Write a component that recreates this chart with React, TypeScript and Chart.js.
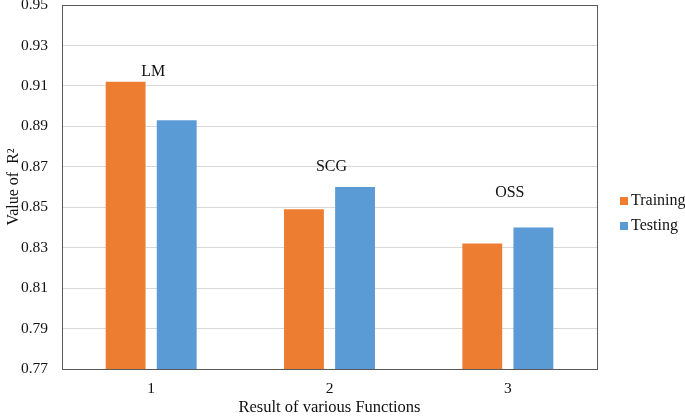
import React, { useEffect, useRef } from "react";
import { Chart, registerables } from "chart.js";

Chart.register(...registerables);

const categories = ["1", "2", "3"];
const trainingValues = [0.912, 0.849, 0.832];
const testingValues = [0.893, 0.86, 0.84];
const groupLabels = ["LM", "SCG", "OSS"];
const groupLabelValues = [0.917, 0.87, 0.857];
const yTicks = [0.77, 0.79, 0.81, 0.83, 0.85, 0.87, 0.89, 0.91, 0.93, 0.95];

const FONT = "'Liberation Serif', 'Times New Roman', serif";
const ORANGE = "#ED7D31";
const BLUE = "#5B9BD5";

const overlayPlugin = {
  id: "overlay",
  afterDraw(chart: any) {
    const { ctx, chartArea, scales } = chart;
    ctx.save();
    ctx.strokeStyle = "#595959";
    ctx.lineWidth = 1;
    ctx.strokeRect(
      Math.round(chartArea.left) + 0.5,
      Math.round(chartArea.top) + 0.5,
      Math.round(chartArea.right - chartArea.left),
      Math.round(chartArea.bottom - chartArea.top)
    );
    ctx.fillStyle = "#111";
    ctx.font = `16px ${FONT}`;
    ctx.textAlign = "center";
    ctx.textBaseline = "middle";
    groupLabels.forEach((lab, i) => {
      const x = scales.x.getPixelForValue(i);
      const y = scales.y.getPixelForValue(groupLabelValues[i]);
      ctx.fillText(lab, x + 2, y);
    });
    ctx.font = `16px ${FONT}`;
    ctx.textAlign = "left";
    const lx = chartArea.right + 23;
    const ly0 = 201;
    chart.data.datasets.forEach((ds: any, i: number) => {
      const y = ly0 + i * 25;
      ctx.fillStyle = ds.backgroundColor;
      ctx.fillRect(lx, y - 4, 8, 8);
      ctx.fillStyle = "#111";
      ctx.fillText(ds.label, lx + 11, y);
    });
    ctx.restore();
  },
};

export default function App() {
  const canvasRef = useRef<HTMLCanvasElement | null>(null);

  useEffect(() => {
    if (!canvasRef.current) return;
    const chart = new Chart(canvasRef.current, {
      type: "bar",
      data: {
        labels: categories,
        datasets: [
          { label: "Training", data: trainingValues, backgroundColor: ORANGE, categoryPercentage: 0.573, barPercentage: 0.78 },
          { label: "Testing", data: testingValues, backgroundColor: BLUE, categoryPercentage: 0.573, barPercentage: 0.78 },
        ],
      },
      options: {
        animation: false,
        responsive: false,
        maintainAspectRatio: false,
        layout: { padding: { left: 0, top: 5, right: 88, bottom: 0 } },
        plugins: { legend: { display: false }, tooltip: { enabled: false } },
        scales: {
          x: {
            grid: { display: false, drawTicks: false },
            border: { display: true, color: "#595959" },
            ticks: { font: { family: FONT, size: 15.5 }, color: "#111", padding: 11 },
            title: {
              display: true,
              text: "Result of various Functions",
              font: { family: FONT, size: 16.5 },
              color: "#111",
              padding: { top: 0, bottom: -2 },
            },
            afterFit: (s: any) => {
              s.height = 47;
              s.paddingLeft = 0;
              s.paddingRight = 0;
            },
          },
          y: {
            min: 0.77,
            max: 0.95,
            afterBuildTicks: (s: any) => {
              s.ticks = yTicks.map((v) => ({ value: v }));
            },
            ticks: {
              font: { family: FONT, size: 15.5 },
              color: "#111",
              padding: 14,
              callback: (v: any) => Number(v).toFixed(2),
            },
            grid: { color: "#d9d9d9", drawTicks: false },
            border: { display: true, color: "#595959" },
            title: {
              display: true,
              text: "Value of  R²",
              font: { family: FONT, size: 16 },
              color: "#111",
              padding: { top: 4, bottom: 4 },
            },
            afterFit: (s: any) => {
              s.width = 62;
              s.paddingTop = 0;
              s.paddingBottom = 0;
            },
          },
        },
      },
      plugins: [overlayPlugin],
    });
    return () => chart.destroy();
  }, []);

  return (
    <div style={{ position: "fixed", left: 0, top: 0, width: 685, height: 416, background: "#fff" }}>
      <canvas ref={canvasRef} width={685} height={416} style={{ width: 685, height: 416 }} />
    </div>
  );
}
